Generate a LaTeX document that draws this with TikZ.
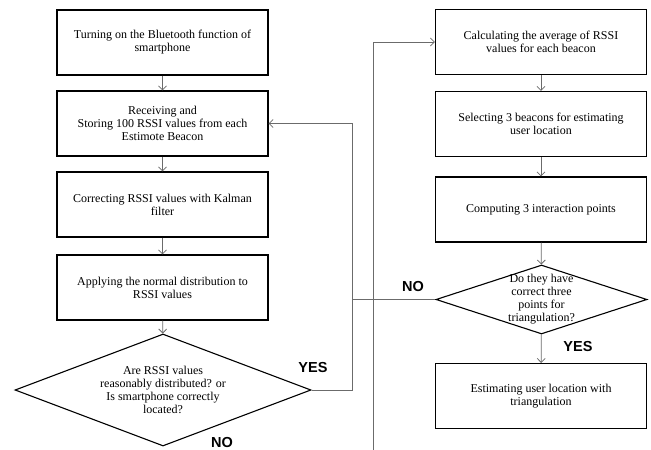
\documentclass[tikz,border=0pt]{standalone}
\usepackage{fontspec}
\setmainfont{Liberation Serif}
\newfontfamily\labelfont{Liberation Sans}
\usepackage{tikz}
\usetikzlibrary{positioning, arrows.meta}
\usetikzlibrary{shapes.geometric}
\definecolor{linegray}{gray}{0.42}

\begin{document}
\begin{tikzpicture}[
            x=1pt, y=-1pt,
            every node/.style={font=\fontsize{12}{13}\selectfont},
            stepbox/.style={rectangle, draw, line width=1.1pt, minimum width=211pt, minimum height=65pt, align=center, inner sep=2pt},
            decision/.style={diamond, draw, line width=1.1pt, inner sep=0pt},
            flow/.style={draw=linegray, line width=0.8pt, -{Straight Barb[length=4pt,width=8pt]}},
            link/.style={draw=linegray, line width=0.8pt},
            answer/.style={font=\labelfont\bfseries\fontsize{14.5}{16}\selectfont},
        ]
            \useasboundingbox (0,0) rectangle (651,450);
            % left column
            \node[stepbox] (turnon) at (162.5,42.5) {Turning on the Bluetooth function of\\smartphone};
            \node[stepbox] (receive) at (162.5,123.5) {Receiving and\\Storing 100 RSSI values from each\\Estimote Beacon};
            \node[stepbox] (kalman) at (162.5,204.5) {Correcting RSSI values with Kalman\\filter};
            \node[stepbox] (normal) at (162.5,287.5) {Applying the normal distribution to\\RSSI values};
            \node[decision, minimum width=296pt, minimum height=112pt,
                label={[align=center]center:Are RSSI values\\reasonably distributed? or\\Is smartphone correctly\\located?}] (check) at (163,390) {};
            % right column
            \node[stepbox] (average) at (541,42) {Calculating the average of RSSI\\values for each beacon};
            \node[stepbox] (select) at (541,124) {Selecting 3 beacons for estimating\\user location};
            \node[stepbox] (compute) at (541,209.5) {Computing 3 interaction points};
            \node[decision, minimum width=211pt, minimum height=69pt,
                label={[align=center]center:Do they have\\correct three\\points for\\triangulation?}] (verify) at (541.5,299.5) {};
            \node[stepbox] (estimate) at (541,396) {Estimating user location with\\triangulation};
            % bus lines
            \coordinate (backbus) at (352,123.5);
            \coordinate (upbus) at (373,450);
            \draw[flow] (turnon) -- (receive);
            \draw[flow] (receive) -- (kalman);
            \draw[flow] (kalman) -- (normal);
            \draw[flow] (normal) -- (check);
            \draw[flow] (check.east) -| (backbus) -- (receive.east);
            \draw[flow] (upbus) |- (average.west);
            \draw[flow] (average) -- (select);
            \draw[flow] (select) -- (compute);
            \draw[flow] (compute) -- (verify);
            \draw[flow] (verify) -- (estimate);
            \draw[link] (verify.west) -- (verify.west -| backbus);
            % answers
            \node[answer] (yesleft) at (313,368) {YES};
            \node[answer] (noleft) at (222,443) {NO};
            \node[answer] (noright) at (413,287) {NO};
            \node[answer] (yesright) at (578,347) {YES};
        \end{tikzpicture}
\end{document}
